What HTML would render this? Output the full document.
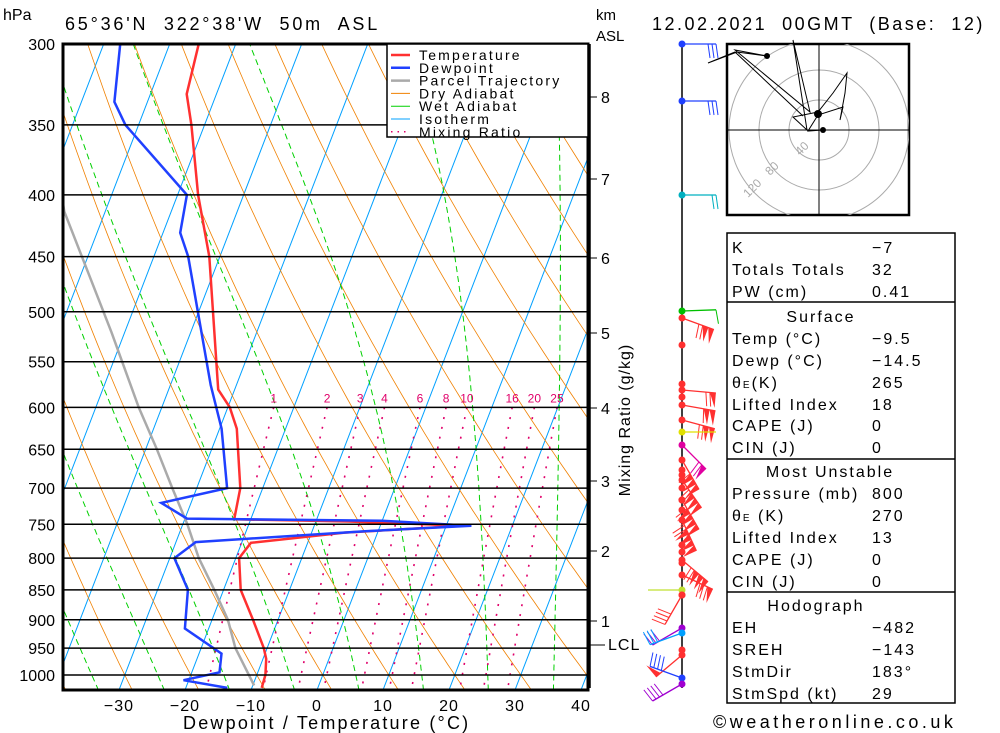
<!DOCTYPE html>
<html><head><meta charset="utf-8">
<style>
body{margin:0;background:#fff;}
svg{display:block;font-family:"Liberation Sans","DejaVu Sans",sans-serif;}
text{white-space:pre;}
.t{font-size:16px;fill:#000;}
</style></head>
<body>
<svg id="chart" width="1000" height="733" viewBox="0 0 1000 733">
<defs><clipPath id="plotclip"><rect x="63" y="44" width="525" height="646"/></clipPath>
<clipPath id="hodoclip"><rect x="727" y="44" width="182" height="171"/></clipPath></defs>
<rect width="1000" height="733" fill="#fff"/>
<g id="bg" clip-path="url(#plotclip)"></g>
<g id="prof" clip-path="url(#plotclip)"></g>
<g id="frame"></g>
<g id="right"></g>
</svg>
<script>
// ---- data ----
const pressureTicks=[300,350,400,450,500,550,600,650,700,750,800,850,900,950,1000];
const tempTicks=[-30,-20,-10,0,10,20,30,40];
const tempP=[300,330,350,400,450,580,600,625,700,743,746,752,762,777,800,850,900,950,970,1000,1025];
const tempT=[-55.6,-54.5,-52,-46.9,-41.6,-32.5,-29.7,-27.4,-23.4,-22.5,-5,12.7,-5,-18.6,-19.5,-17.4,-13.8,-10.5,-9.5,-8.7,-8.5];
const dewP=[300,335,350,400,430,450,575,625,700,720,742,745,752,760,776,800,850,915,960,995,1010,1025];
const dewT=[-67.5,-65,-62,-48.6,-47.4,-44.8,-33.9,-29.7,-25.4,-34.5,-29.7,0,13.8,-2,-27,-29.3,-25.4,-23.6,-16.6,-15.8,-20.8,-13.7];
const parcelP=[1020,950,900,850,800,750,700,650,600,520,450,413,300];
const parcelT=[-9.8,-14.8,-17.6,-21.4,-25.6,-29.3,-33.7,-38.3,-43.5,-52,-60.9,-66.2,-80];
const mixRatios=[1,2,3,4,6,8,10,16,20,25];
const kmTicks=[1,2,3,4,5,6,7,8];
const kmY=[621,551,481,408,333,258,179,97];

const NS='http://www.w3.org/2000/svg';
function el(tag,attrs,parent,txt){const e=document.createElementNS(NS,tag);for(const k in attrs)e.setAttribute(k,attrs[k]);if(txt!==undefined)e.textContent=txt;parent.appendChild(e);return e;}
const Y=p=>675-524*Math.log(1000/p);
const X=(T,p)=>317+6.6*T+0.385*(690-Y(p));
const bg=document.getElementById('bg'),prof=document.getElementById('prof'),frame=document.getElementById('frame');

function pathFrom(pts){return pts.map((q,i)=>(i?'L':'M')+q[0].toFixed(1)+' '+q[1].toFixed(1)).join(' ');}
for(let T=-110;T<=40;T+=10){const l=el('line',{x1:X(T,1030),y1:Y(1030),x2:X(T,290),y2:Y(290),stroke:'#00a0ff','stroke-width':1},bg);

}
for(let T0=-60;T0<=140;T0+=10){const th=T0+273.15;const pts=[];for(let p=1030;p>=290;p-=10)pts.push([X(th*Math.pow(p/1000,0.2857)-273.15,p),Y(p)]);
const e=el('path',{d:pathFrom(pts),fill:'none',stroke:'#f08000','stroke-width':0.8},bg);

}
function es(T){return 6.112*Math.exp(17.67*T/(T+243.5));}
function moistStep(T,p,dp){const Tk=T+273.15;const rs=0.622*es(T)/(p-es(T));const Lv=2.5e6,Rd=287,cp=1004;
const dTdp=(Rd*Tk+Lv*rs)/(p*(cp+Lv*Lv*rs*0.622/(Rd*Tk*Tk)));return T+dTdp*dp;}
for(let T0=-45;T0<=35;T0+=10){let T=T0,pts=[];for(let p=1000;p>=290;p-=2){pts.push([X(T,p),Y(p)]);T=moistStep(T,p,-2);}
T=T0;const low=[];for(let p=1000;p<=1030;p+=2){low.push([X(T,p),Y(p)]);T=moistStep(T,p,2);}
pts=low.reverse().concat(pts);
const e=el('path',{d:pathFrom(pts),fill:'none',stroke:'#00d000','stroke-width':1,'stroke-dasharray':'6,4'},bg);

}
function tdFromW(w,p){const e=w*p/(622+w);const a=Math.log(e/6.112);return 243.5*a/(17.67-a);}
mixRatios.forEach(w=>{const pts=[];for(let p=600;p<=1030;p+=10)pts.push([X(tdFromW(w,p),p),Y(p)]);
const e=el('path',{d:pathFrom(pts),fill:'none',stroke:'#e0006a','stroke-width':1.6,'stroke-dasharray':'2,8'},bg);


const t=el('text',{x:X(tdFromW(w,600),600),y:Y(600)-5,'font-size':12,fill:'#e0006a','text-anchor':'middle'},bg,String(w));

});
pressureTicks.forEach(p=>{const l=el('line',{x1:63,x2:588,y1:Y(p),y2:Y(p),stroke:'#000','stroke-width':1.5},frame);


const t=el('text',{x:55,y:Y(p)+6,'text-anchor':'end',class:'t'},frame,String(p));

});
const pl=el('path',{d:pathFrom(parcelP.map((p,i)=>[X(parcelT[i],p),Y(p)])),fill:'none',stroke:'#aaa','stroke-width':2.5},prof);


const tl=el('path',{d:pathFrom(tempP.map((p,i)=>[X(tempT[i],p),Y(p)])),fill:'none',stroke:'#ff3030','stroke-width':2.5},prof);


const dl=el('path',{d:pathFrom(dewP.map((p,i)=>[X(dewT[i],p),Y(p)])),fill:'none',stroke:'#2040ff','stroke-width':2.5},prof);


const fr=el('rect',{x:63,y:44,width:525,height:646,fill:'none',stroke:'#000','stroke-width':3},frame);


tempTicks.forEach(T=>{const t=el('text',{x:317+6.6*T,y:711,'text-anchor':'middle',class:'t','letter-spacing':1},frame,(T<0?'\u2212':'')+Math.abs(T));

});
const lg=el('g',{},frame);
el('rect',{x:387,y:44,width:201,height:93,fill:'#fff',stroke:'#000','stroke-width':1.5},lg);
[['Temperature','#ff3030',2.5,''],['Dewpoint','#2040ff',2.5,''],['Parcel Trajectory','#aaa',2.5,''],['Dry Adiabat','#f08000',1,''],['Wet Adiabat','#00d000',1,''],['Isotherm','#00a0ff',1,''],['Mixing Ratio','#e0006a',1.5,'1.5,5']].forEach((r,i)=>{
const yy=55+i*12.8;const ln=el('line',{x1:391,x2:410,y1:yy,y2:yy,stroke:r[1],'stroke-width':r[2],'stroke-dasharray':r[3]},lg);


const t=el('text',{x:419,y:yy+5,'font-size':14,fill:'#000','letter-spacing':'2.2'},lg,r[0]);

});
</script>
<svg style="position:absolute;left:0;top:0" width="1000" height="733">
<text x="3" y="20" class="t" font-size="15">hPa</text>
<text x="65" y="30" font-size="18" letter-spacing="2.8">65°36'N  322°38'W  50m  ASL</text>
<text x="596" y="20" font-size="15">km</text>
<text x="596" y="41" font-size="15">ASL</text>
<text x="652" y="30" font-size="18" letter-spacing="2.5">12.02.2021  00GMT  (Base:  12)</text>
<text x="183" y="729" font-size="18" letter-spacing="2.2">Dewpoint / Temperature (°C)</text>
<text x="630" y="420" font-size="16" letter-spacing="1" transform="rotate(-90 630 420)" text-anchor="middle">Mixing Ratio (g/kg)</text>
<text x="713" y="728" font-size="18" letter-spacing="3.5">©weatheronline.co.uk</text>
<line x1="590" y1="44" x2="590" y2="688" stroke="#000" stroke-width="1.5"/>
<line x1="590" y1="645" x2="605" y2="645" stroke="#000"/>
<text x="608" y="650" class="t" letter-spacing="1">LCL</text>
<line x1="682" y1="44" x2="682" y2="688" stroke="#000" stroke-width="1.5"/>
<g id="km"></g><g id="barbs"></g>
<g>
<rect x="727" y="44" width="182" height="171" fill="#fff" stroke="#000" stroke-width="2.5"/>
<g clip-path="url(#hodoclip)" fill="none" stroke="#aaa">
<circle cx="819" cy="130" r="30"/><circle cx="819" cy="130" r="60"/><circle cx="819" cy="130" r="90"/></g>
<line x1="727" y1="130" x2="909" y2="130" stroke="#000"/><line x1="819" y1="44" x2="819" y2="215" stroke="#000"/>
<text x="800" y="156" font-size="12" fill="#aaa" transform="rotate(-45 800 156)">40</text>
<text x="770" y="176" font-size="12" fill="#aaa" transform="rotate(-45 770 176)">80</text>
<text x="748" y="198" font-size="12" fill="#aaa" transform="rotate(-45 748 198)">120</text>
<polyline fill="none" stroke="#000" points="823,130 808,131 818,115 843,107 840,120 845,93 847,73 833,93 818,112 793,117 807,130 793,40 810,112 735,50 767,56 737,52 708,63 735,52 803,116"/>
<circle cx="818" cy="114" r="4"/><circle cx="823" cy="130" r="3"/><circle cx="767" cy="56" r="3"/>
</g>
<g font-size="16" letter-spacing="2">
<rect x="727" y="233" width="228" height="470" fill="none" stroke="#000" stroke-width="1.5"/>
<line x1="727" y1="302" x2="955" y2="302" stroke="#000" stroke-width="1.5"/>
<line x1="727" y1="459" x2="955" y2="459" stroke="#000" stroke-width="1.5"/>
<line x1="727" y1="592" x2="955" y2="592" stroke="#000" stroke-width="1.5"/>
<text x="732" y="253">K</text><text x="872" y="253">−7</text>
<text x="732" y="275">Totals Totals</text><text x="872" y="275">32</text>
<text x="732" y="297">PW (cm)</text><text x="872" y="297">0.41</text>
<text x="821" y="322" text-anchor="middle">Surface</text>
<text x="732" y="344">Temp (°C)</text><text x="872" y="344">−9.5</text>
<text x="732" y="366">Dewp (°C)</text><text x="872" y="366">−14.5</text>
<text x="732" y="388">θ<tspan font-size="10">E</tspan>(K)</text><text x="872" y="388">265</text>
<text x="732" y="410">Lifted Index</text><text x="872" y="410">18</text>
<text x="732" y="431">CAPE (J)</text><text x="872" y="431">0</text>
<text x="732" y="453">CIN (J)</text><text x="872" y="453">0</text>
<text x="830" y="477" text-anchor="middle">Most Unstable</text>
<text x="732" y="499">Pressure (mb)</text><text x="872" y="499">800</text>
<text x="732" y="521">θ<tspan font-size="10">E</tspan> (K)</text><text x="872" y="521">270</text>
<text x="732" y="543">Lifted Index</text><text x="872" y="543">13</text>
<text x="732" y="565">CAPE (J)</text><text x="872" y="565">0</text>
<text x="732" y="587">CIN (J)</text><text x="872" y="587">0</text>
<text x="816" y="611" text-anchor="middle">Hodograph</text>
<text x="732" y="633">EH</text><text x="872" y="633">−482</text>
<text x="732" y="655">SREH</text><text x="872" y="655">−143</text>
<text x="732" y="677">StmDir</text><text x="872" y="677">183°</text>
<text x="732" y="699">StmSpd (kt)</text><text x="872" y="699">29</text>
</g>
</svg>
<script>
(function(){
const NS='http://www.w3.org/2000/svg';
function el(tag,a,p,t){const e=document.createElementNS(NS,tag);for(const k in a)e.setAttribute(k,a[k]);if(t!==undefined)e.textContent=t;p.appendChild(e);return e;}
const km=document.getElementById('km');
kmTicks.forEach((k,i)=>{const l=el('line',{x1:590,x2:597,y1:kmY[i],y2:kmY[i],stroke:'#000'},km);


const t=el('text',{x:601,y:kmY[i]+6,'font-size':16},km,String(k));

});
const b=document.getElementById('barbs');
const winds=[[44,180,0,3,'#2040ff'],[101,180,0,3,'#2040ff'],[195,180,0,2,'#00b0c0'],[311,178,0,1,'#00c000'],[318,200,2,2,'#ff3030'],[390,185,1,2,'#ff3030'],[405,190,2,1,'#ff3030'],[420,195,2,2,'#ff3030'],[432,180,0,0,'#e0e000'],[445,225,1,2,'#e000a0'],[460,240,3,1,'#ff3030'],[480,235,3,2,'#ff3030'],[500,240,4,1,'#ff3030'],[520,245,4,2,'#ff3030'],[560,220,3,2,'#ff3030'],[575,205,1,3,'#ff3030'],[590,0,0,0,'#c0e030'],[595,300,0,4,'#ff3030'],[628,330,0,3,'#a000d0'],[633,340,0,3,'#00a0ff'],[655,320,1,0,'#ff3030'],[678,20,0,4,'#2040ff'],[684,330,0,4,'#a000d0']];
winds.forEach(w=>{const [y,a,pen,nb,c]=w;const r=a*Math.PI/180;const dx=-Math.cos(r),dy=-Math.sin(r);const L=34;
const x2=682+dx*L,y2=y+dy*L;const g=el('g',{},b);


el('line',{x1:682,y1:y,x2:x2,y2:y2,stroke:c,'stroke-width':1.3},g);
const nx=-dy,ny=dx;let s=0;
for(let i=0;i<pen;i++){const bx=x2-dx*s,by=y2-dy*s;el('polygon',{points:`${bx},${by} ${bx+nx*15},${by+ny*15} ${bx-dx*6},${by-dy*6}`,fill:c},g);s+=6;}
for(let i=0;i<nb;i++){const bx=x2-dx*s,by=y2-dy*s;el('line',{x1:bx,y1:by,x2:bx+nx*14+dx*2,y2:by+ny*14+dy*2,stroke:c},g);s+=4;}
el('circle',{cx:682,cy:y,r:3.5,fill:c},g);});
[345,384,397,470,475,488,500,510,545,552,563,595,650].forEach(y=>{const d=el('circle',{cx:682,cy:y,r:3.5,fill:'#ff3030'},b);

});
})();
</script>
</body></html>
